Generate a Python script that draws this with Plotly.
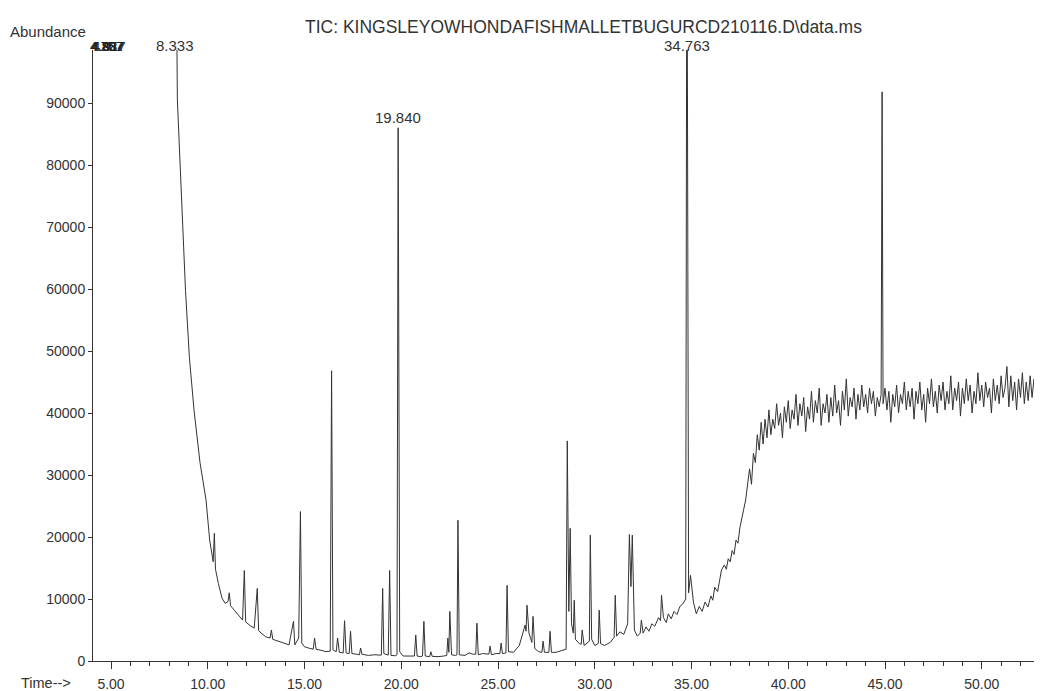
import plotly.graph_objects as go

# ---------------- data ----------------
# solvent tail + peaks, 4.1 - 37.9 min
mid_t = [
    4.10, 8.333, 8.43, 8.64, 8.85, 9.05, 9.29, 9.60, 9.91, 10.10,
    10.28, 10.34, 10.40, 10.55, 10.74, 10.90, 11.05, 11.11, 11.18, 11.40,
    11.60, 11.80, 11.89, 11.96, 12.20, 12.40, 12.56, 12.63, 12.80, 13.00,
    13.22, 13.29, 13.36, 13.70, 14.00, 14.20, 14.43, 14.50, 14.70, 14.79,
    14.86, 15.00, 15.20, 15.45, 15.52, 15.60, 15.90, 16.10, 16.33, 16.40,
    16.47, 16.64, 16.71, 16.80, 17.00, 17.07, 17.15, 17.31, 17.38, 17.45,
    17.70, 17.84, 17.90, 17.97, 18.30, 18.60, 18.97, 19.04, 19.10, 19.33,
    19.40, 19.47, 19.70, 19.78, 19.84, 19.92, 20.10, 20.40, 20.68, 20.75,
    20.82, 21.00, 21.10, 21.17, 21.24, 21.47, 21.53, 21.60, 21.90, 22.20,
    22.35, 22.41, 22.46, 22.51, 22.60, 22.80, 22.88, 22.93, 23.00, 23.30,
    23.50, 23.70, 23.85, 23.91, 23.98, 24.20, 24.53, 24.59, 24.66, 24.90,
    25.10, 25.16, 25.23, 25.41, 25.47, 25.54, 25.80, 26.10, 26.30, 26.40,
    26.45, 26.50, 26.60, 26.75, 26.81, 26.90, 27.10, 27.27, 27.33, 27.40,
    27.63, 27.69, 27.76, 28.00, 28.30, 28.52, 28.58, 28.66, 28.73, 28.80,
    28.89, 28.94, 29.00, 29.20, 29.30, 29.35, 29.45, 29.65, 29.72, 29.77,
    29.84, 30.00, 30.18, 30.23, 30.30, 30.50, 30.80, 31.00, 31.06, 31.13,
    31.30, 31.50, 31.70, 31.79, 31.87, 31.94, 32.05, 32.20, 32.35, 32.41,
    32.50, 32.65, 32.80, 32.95, 33.10, 33.30, 33.40, 33.45, 33.55, 33.70,
    33.80, 33.95, 34.10, 34.25, 34.40, 34.55, 34.70, 34.763, 34.85, 34.95,
    35.10, 35.25, 35.40, 35.55, 35.70, 35.85, 36.00, 36.10, 36.20, 36.35,
    36.45, 36.55, 36.70, 36.80, 36.90, 37.00, 37.10, 37.20, 37.30, 37.40,
    37.50, 37.60, 37.70, 37.80, 37.90,
]
mid_y = [
    150000, 130000, 90500, 74000, 59800, 49000, 40500, 32000, 26000, 19500,
    16000, 20600, 14800, 12500, 10100, 9300, 9600, 11000, 8900, 8100,
    7300, 6600, 14600, 6300, 5700, 5300, 11700, 4900, 4400, 3900,
    3700, 5000, 3500, 3100, 2800, 2600, 6400, 2600, 3700, 24100,
    2900, 2300, 2100, 1900, 3700, 1900, 1700, 1500, 1600, 46800,
    1800, 1500, 3700, 1400, 1300, 6500, 1300, 1200, 4800, 1200,
    1100, 1000, 2100, 1100, 900, 1000, 950, 11700, 1200, 950,
    14600, 900, 850, 1000, 86000, 1500, 800, 750, 800, 4200,
    800, 700, 800, 6400, 800, 700, 1500, 750, 700, 800,
    900, 3700, 1400, 8000, 1000, 900, 1000, 22700, 1000, 900,
    1300, 1100, 1100, 6100, 1000, 1200, 1100, 2400, 1000, 1200,
    1200, 2900, 1200, 1300, 12200, 1500, 1400, 2500, 4500, 5800,
    4800, 9000, 4500, 3000, 7200, 2000, 1500, 1400, 3200, 1400,
    1400, 4800, 1400, 1400, 1700, 1900, 35500, 8000, 21400, 6000,
    4500, 9800, 3500, 2800, 2700, 5000, 2500, 3000, 3200, 20300,
    3500, 2500, 2800, 8200, 2800, 2500, 3000, 3800, 10600, 4000,
    4700, 4300, 6000, 20400, 12000, 20300, 5000, 4000, 4500, 6600,
    4500, 5500, 4800, 6000, 5600, 7000, 6500, 10600, 7000, 6200,
    7600, 6800, 8000, 7500, 8800, 9200, 10000, 130000, 11000, 13800,
    9500, 7600, 8800, 8000, 9500, 8700, 10500, 9800, 11900, 11200,
    13000, 14700, 15500, 14800, 16500, 16000, 17800, 17200, 19500, 19000,
    21500, 22800, 24500, 26000, 28500,
]

# rising, noisy column-bleed plateau, 38 - 53 min
late_t = [
    38.0, 38.1, 38.2, 38.3, 38.4, 38.5, 38.6, 38.7, 38.8, 38.9,
    39.0, 39.1, 39.2, 39.3, 39.4, 39.5, 39.6, 39.7, 39.8, 39.9,
    40.0, 40.1, 40.2, 40.3, 40.4, 40.5, 40.6, 40.7, 40.8, 40.9,
    41.0, 41.1, 41.2, 41.3, 41.4, 41.5, 41.6, 41.7, 41.8, 41.9,
    42.0, 42.1, 42.2, 42.3, 42.4, 42.5, 42.6, 42.7, 42.8, 42.9,
    43.0, 43.1, 43.2, 43.3, 43.4, 43.5, 43.6, 43.7, 43.8, 43.9,
    44.0, 44.1, 44.2, 44.3, 44.4, 44.5, 44.6, 44.7, 44.8, 44.85,
    44.9, 45.0, 45.1, 45.2, 45.3, 45.4, 45.5, 45.6, 45.7, 45.8,
    45.9, 46.0, 46.1, 46.2, 46.3, 46.4, 46.5, 46.6, 46.7, 46.8,
    46.9, 47.0, 47.1, 47.2, 47.3, 47.4, 47.5, 47.6, 47.7, 47.8,
    47.9, 48.0, 48.1, 48.2, 48.3, 48.4, 48.5, 48.6, 48.7, 48.8,
    48.9, 49.0, 49.1, 49.2, 49.3, 49.4, 49.5, 49.6, 49.7, 49.8,
    49.9, 50.0, 50.1, 50.2, 50.3, 50.4, 50.5, 50.6, 50.7, 50.8,
    50.9, 51.0, 51.1, 51.2, 51.3, 51.4, 51.5, 51.6, 51.7, 51.8,
    51.9, 52.0, 52.1, 52.2, 52.3, 52.4, 52.5, 52.6, 52.7, 52.8,
    52.9, 53.0,
]
late_y = [
    31000, 28500, 33500, 32000, 36500, 34000, 38500, 35000, 39000, 36000,
    40500, 36500, 39000, 37500, 41500, 38000, 40000, 36000, 41000, 38500,
    42000, 37500, 40500, 39000, 43000, 38000, 41500, 39500, 42500, 37000,
    41000, 39000, 43500, 38500, 42000, 40000, 44000, 38000, 41500, 40000,
    43000, 38500, 42500, 39500, 44500, 40000, 42000, 38000, 43500, 40500,
    45500, 39500, 42500, 41000, 44000, 39000, 43000, 40500, 44500, 41000,
    43000, 40000, 44000, 41500, 43500, 39500, 42500, 41000, 43000, 91800,
    41500, 44000, 40500, 43500, 38500, 43000, 41000, 44500, 40000, 43000,
    41500, 45000, 40500, 43500, 41000, 44000, 39000, 43500, 41500, 45000,
    40500, 43000, 38500, 44000, 41500, 45500, 41000, 43500, 40000, 44500,
    42000, 45000, 40500, 43500, 41500, 46000, 40500, 44000, 42000, 45000,
    39500, 44000, 41500, 45500, 42000, 44500, 40000, 43500, 41500, 46500,
    42000, 44500, 41000, 45000, 42500, 44000, 40000, 45500, 42000, 44500,
    41500, 46000, 42500, 44000, 47500, 41000, 46000, 42000, 45000, 40500,
    45500, 42500, 46500, 41500, 45000, 42000, 46000, 42500, 45500, 41500,
    44500, 43000,
]

# peak labels
label_t = [8.333, 19.840, 34.763]
label_text = ["8.333", "19.840", "34.763"]
# overprinted labels of the off-scale solvent peaks (unreadable in the print)
solvent_label_t = [4.76, 4.80, 4.84, 4.88, 4.92]
solvent_label_text = ["4.757", "4.807", "4.837", "4.887", "4.917"]

x_ticks = [5, 10, 15, 20, 25, 30, 35, 40, 45, 50]
x_tick_text = ["5.00", "10.00", "15.00", "20.00", "25.00", "30.00",
               "35.00", "40.00", "45.00", "50.00"]
y_ticks = [0, 10000, 20000, 30000, 40000, 50000, 60000, 70000, 80000, 90000]

title_text = "TIC: KINGSLEYOWHONDAFISHMALLETBUGURCD210116.D\\data.ms"

# ---------------- figure ----------------
X_RANGE = [4.07, 53.01]
Y_RANGE = [0, 98550]
INK = "#333333"
FONT = "Liberation Sans, Arial, sans-serif"
PAGE_OFFSET = 8  # default body margin of the written html page

t_all = mid_t + late_t
y_all = mid_y + late_y

fig = go.Figure()
fig.add_trace(go.Scatter(
    x=t_all, y=y_all, mode="lines",
    line=dict(color=INK, width=1),
    hoverinfo="x+y", showlegend=False,
))

annotations = []
lookup = dict(zip(t_all, y_all))
for t, txt in zip(label_t, label_text):
    apex = lookup.get(t, Y_RANGE[1])
    if apex >= Y_RANGE[1]:
        annotations.append(dict(x=t, y=1.0, xref="x", yref="paper", text=txt,
                                showarrow=False, yanchor="middle", yshift=5,
                                font=dict(size=15, color=INK, family=FONT)))
    else:
        annotations.append(dict(x=t, y=apex, xref="x", yref="y", text=txt,
                                showarrow=False, yanchor="middle", yshift=10,
                                font=dict(size=15, color=INK, family=FONT)))
for t, txt in zip(solvent_label_t, solvent_label_text):
    annotations.append(dict(x=t, y=1.0, xref="x", yref="paper", text=txt,
                            showarrow=False, yanchor="middle", yshift=4,
                            font=dict(size=13, color="#222222", family=FONT)))

annotations += [
    dict(x=0.518, y=1.0376, xref="paper", yref="paper", text=title_text,
         showarrow=False, xanchor="center", yanchor="middle",
         font=dict(size=17.5, color=INK, family=FONT)),
    dict(x=-0.0898, y=1.0295, xref="paper", yref="paper", text="Abundance",
         showarrow=False, xanchor="left", yanchor="middle",
         font=dict(size=15, color=INK, family=FONT)),
    dict(x=-0.078, y=-0.036, xref="paper", yref="paper", text="Time-->",
         showarrow=False, xanchor="left", yanchor="middle",
         font=dict(size=14.5, color=INK, family=FONT)),
]

fig.update_layout(
    width=1042 - PAGE_OFFSET, height=691 - PAGE_OFFSET,
    margin=dict(l=93 - PAGE_OFFSET, r=2, t=50 - PAGE_OFFSET, b=30),
    paper_bgcolor="white", plot_bgcolor="white",
    font=dict(family=FONT, size=14, color=INK),
    annotations=annotations,
    showlegend=False,
)
fig.update_xaxes(
    range=X_RANGE, showgrid=False, zeroline=False, automargin=False,
    showline=True, linecolor=INK, linewidth=1,
    tickmode="array", tickvals=x_ticks, ticktext=x_tick_text,
    ticks="outside", ticklen=7, tickcolor=INK, tickwidth=1,
    ticklabelstandoff=3,
    minor=dict(dtick=1, tick0=0, ticks="outside", ticklen=4,
               tickcolor=INK, showgrid=False),
    tickfont=dict(size=14, color=INK, family=FONT),
)
fig.update_yaxes(
    range=Y_RANGE, showgrid=False, zeroline=False, automargin=False,
    showline=True, linecolor=INK, linewidth=1,
    tickmode="array", tickvals=y_ticks, ticktext=[str(v) for v in y_ticks],
    ticks="outside", ticklen=4, tickcolor=INK, tickwidth=1,
    tickfont=dict(size=14, color=INK, family=FONT),
)

fig.write_html("out.html")
